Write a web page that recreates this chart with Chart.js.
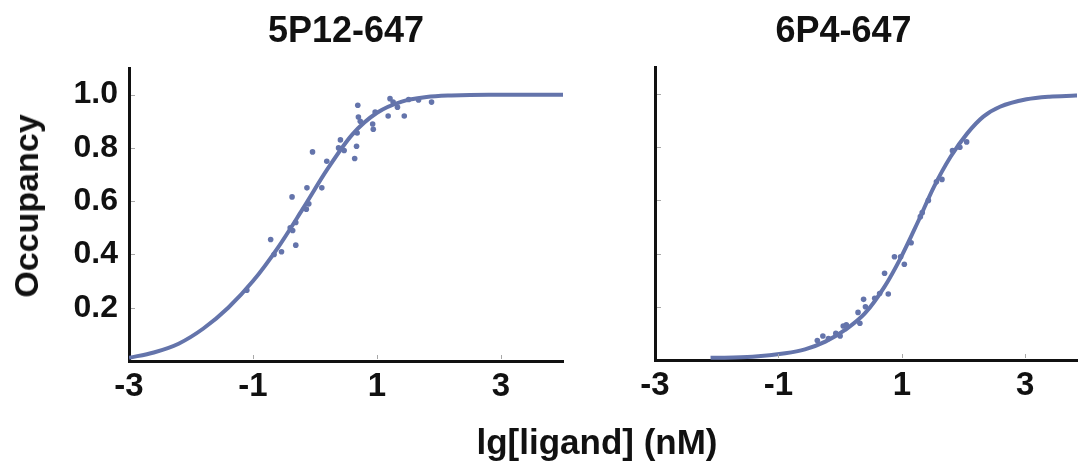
<!DOCTYPE html>
<html>
<head>
<meta charset="utf-8">
<script src="https://cdn.jsdelivr.net/npm/chart.js@4.4.0/dist/chart.umd.min.js"></script>
<style>
html,body{margin:0;padding:0;background:#fff;overflow:hidden;width:1081px;height:464px;}
#left{position:absolute;left:0;top:0;width:580px;height:464px;}
#right{position:absolute;left:606px;top:0;width:475px;height:464px;}
.lbl{position:absolute;font-family:"Liberation Sans",Arial,Helvetica,sans-serif;font-weight:bold;color:#111;white-space:nowrap;}
#xl{left:347px;width:500px;text-align:center;top:424px;font-size:35px;line-height:35px;}
#yl{left:25.5px;top:206px;transform:translate(-50%,-50%) rotate(-90deg);font-size:34px;line-height:34px;}
</style>
</head>
<body>
<div id="left"><canvas id="c1"></canvas></div>
<div id="right"><canvas id="c2"></canvas></div>
<div class="lbl" id="yl">Occupancy</div>
<div class="lbl" id="xl">lg[ligand] (nM)</div>
<script>
// ---- data ----
const panelTitles = ['5P12-647', '6P4-647'];
const xTicks = [-3, -1, 1, 3];
const xTickLabels = ['-3', '-1', '1', '3'];
const yTicks = [0.2, 0.4, 0.6, 0.8, 1.0];
const yTickLabels = ['0.2', '0.4', '0.6', '0.8', '1.0'];

// 5P12-647 fitted curve
const leftCurveX = [-3.0, -2.6, -2.2, -1.8, -1.4, -1.0, -0.6, -0.2, 0.2, 0.6, 1.0, 1.4, 1.8, 2.2, 2.8, 4.0];
const leftCurveY = [0.012, 0.032, 0.065, 0.122, 0.20, 0.30, 0.425, 0.57, 0.72, 0.85, 0.932, 0.974, 0.991, 0.997, 1.0, 1.0];
// 5P12-647 measured points
const leftDotX = [-1.10, -0.715, -0.66, -0.54, -0.37, -0.31, -0.40, -0.36, -0.31, -0.13, -0.14, -0.10, -0.04, 0.11, 0.19, 0.38, 0.41, 0.47, 0.64, 0.67, 0.68, 0.69, 0.70, 0.73, 0.93, 0.94, 0.97, 1.18, 1.21, 1.26, 1.33, 1.44, 1.51, 1.67, 1.88];
const leftDotY = [0.266, 0.456, 0.40, 0.41, 0.616, 0.435, 0.50, 0.49, 0.52, 0.65, 0.57, 0.59, 0.785, 0.65, 0.75, 0.80, 0.83, 0.79, 0.76, 0.806, 0.856, 0.96, 0.916, 0.90, 0.89, 0.87, 0.935, 0.92, 0.985, 0.972, 0.953, 0.92, 0.982, 0.98, 0.972];

// 6P4-647 fitted curve
const rightCurveX = [-2.1, -1.42, -0.89, -0.57, -0.24, 0.08, 0.40, 0.72, 0.99, 1.25, 1.52, 1.79, 2.06, 2.32, 2.59, 3.02, 3.39, 3.82, 4.0];
const rightCurveY = [0.008, 0.012, 0.025, 0.04, 0.069, 0.113, 0.175, 0.276, 0.388, 0.514, 0.651, 0.764, 0.852, 0.915, 0.952, 0.98, 0.99, 0.994, 0.996];
// 6P4-647 measured points
const rightDotX = [-0.37, -0.28, -0.19, -0.07, 0.00, 0.05, 0.10, 0.29, 0.32, 0.38, 0.41, 0.56, 0.64, 0.78, 0.72, 0.88, 0.98, 1.04, 1.15, 1.30, 1.33, 1.43, 1.56, 1.65, 1.82, 1.94, 2.05];
const rightDotY = [0.073, 0.09, 0.081, 0.10, 0.09, 0.128, 0.132, 0.179, 0.138, 0.228, 0.20, 0.232, 0.25, 0.248, 0.326, 0.388, 0.388, 0.36, 0.441, 0.539, 0.554, 0.60, 0.67, 0.679, 0.787, 0.80, 0.82];

// ---- rendering ----
const FONT = '"Liberation Sans", Arial, Helvetica, sans-serif';
const COL = '#6474ab';
const AXIS = '#111111';
Chart.defaults.font.family = FONT;
Chart.defaults.font.weight = 'bold';
Chart.defaults.color = AXIS;

const zip = (xs, ys) => xs.map((x, i) => ({x: x, y: ys[i]}));

const innerTicks = {
  id: 'innerTicks',
  afterDatasetsDraw(chart) {
    const {ctx, chartArea} = chart;
    const xs = chart.scales.x, ys = chart.scales.y;
    ctx.save();
    ctx.strokeStyle = '#a8a8a8';
    ctx.lineWidth = 1;
    xs.ticks.forEach(t => {
      if (t.value === xs.min) return;
      const p = Math.round(xs.getPixelForValue(t.value)) + 0.5;
      ctx.beginPath(); ctx.moveTo(p, chartArea.bottom - 2); ctx.lineTo(p, chartArea.bottom - 6); ctx.stroke();
    });
    ys.ticks.forEach(t => {
      const p = Math.round(ys.getPixelForValue(t.value)) + 0.5;
      ctx.beginPath(); ctx.moveTo(chartArea.left + 2, p); ctx.lineTo(chartArea.left + 6, p); ctx.stroke();
    });
    ctx.restore();
  }
};

function datasets(cx, cy, dx, dy) {
  return [
    {data: zip(cx, cy), showLine: true, borderColor: COL, borderWidth: 4, pointRadius: 0,
     cubicInterpolationMode: 'monotone', fill: false},
    {data: zip(dx, dy), showLine: false, pointRadius: 2.8, pointBackgroundColor: COL,
     pointBorderWidth: 0, borderColor: COL}
  ];
}

function xScale(max, h) {
  return {
    type: 'linear', position: 'bottom', min: -3, max: max,
    afterBuildTicks: s => { s.ticks = xTicks.map(v => ({value: v})); },
    afterFit: s => { s.height = h; },
    grid: {drawOnChartArea: false, drawTicks: false},
    border: {display: true, color: AXIS, width: 3},
    ticks: {font: {size: 33, weight: 'bold'}, color: AXIS, padding: 6, maxRotation: 0, autoSkip: false,
            callback: (v) => xTickLabels[xTicks.indexOf(v)]}
  };
}

function yScale(w, showLabels) {
  return {
    type: 'linear', position: 'left', min: 0, max: 1.1,
    afterBuildTicks: s => { s.ticks = yTicks.map(v => ({value: v})); },
    afterFit: s => { s.width = w; },
    grid: {drawOnChartArea: false, drawTicks: false},
    border: {display: true, color: AXIS, width: 3},
    ticks: {display: showLabels, font: {size: 32, weight: 'bold'}, color: AXIS, padding: 11, autoSkip: false,
            callback: (v) => yTickLabels[yTicks.findIndex(t => Math.abs(t - v) < 1e-9)]}
  };
}

new Chart(document.getElementById('c1'), {
  type: 'scatter',
  data: {datasets: datasets(leftCurveX, leftCurveY, leftDotX, leftDotY)},
  options: {
    responsive: true, maintainAspectRatio: false, animation: false,
    layout: {padding: {left: 0, right: 17, top: 0, bottom: 0}},
    plugins: {legend: {display: false}, tooltip: {enabled: false}, title: {display: false}},
    scales: {
      x: xScale(4, 103),
      y: yScale(129, true),
      xTop: {
        type: 'linear', position: 'top', min: -3, max: 4,
        afterFit: s => { s.height = 68; },
        grid: {display: false, drawTicks: false},
        border: {display: false},
        ticks: {display: false},
        title: {display: true, text: panelTitles[0], color: AXIS,
                font: {size: 36, weight: 'bold'}, padding: {top: 10, bottom: 0}}
      }
    }
  },
  plugins: [innerTicks]
});

new Chart(document.getElementById('c2'), {
  type: 'scatter',
  data: {datasets: datasets(rightCurveX, rightCurveY, rightDotX, rightDotY)},
  options: {
    responsive: true, maintainAspectRatio: false, animation: false,
    layout: {padding: 0},
    plugins: {
      legend: {display: false}, tooltip: {enabled: false},
      title: {display: true, text: panelTitles[1], color: AXIS,
              font: {size: 36, weight: 'bold'}, padding: {top: 10, bottom: 14.2}}
    },
    scales: {
      x: xScale(3.838, 104),
      y: yScale(49, false)
    }
  },
  plugins: [innerTicks]
});
</script>
</body>
</html>
